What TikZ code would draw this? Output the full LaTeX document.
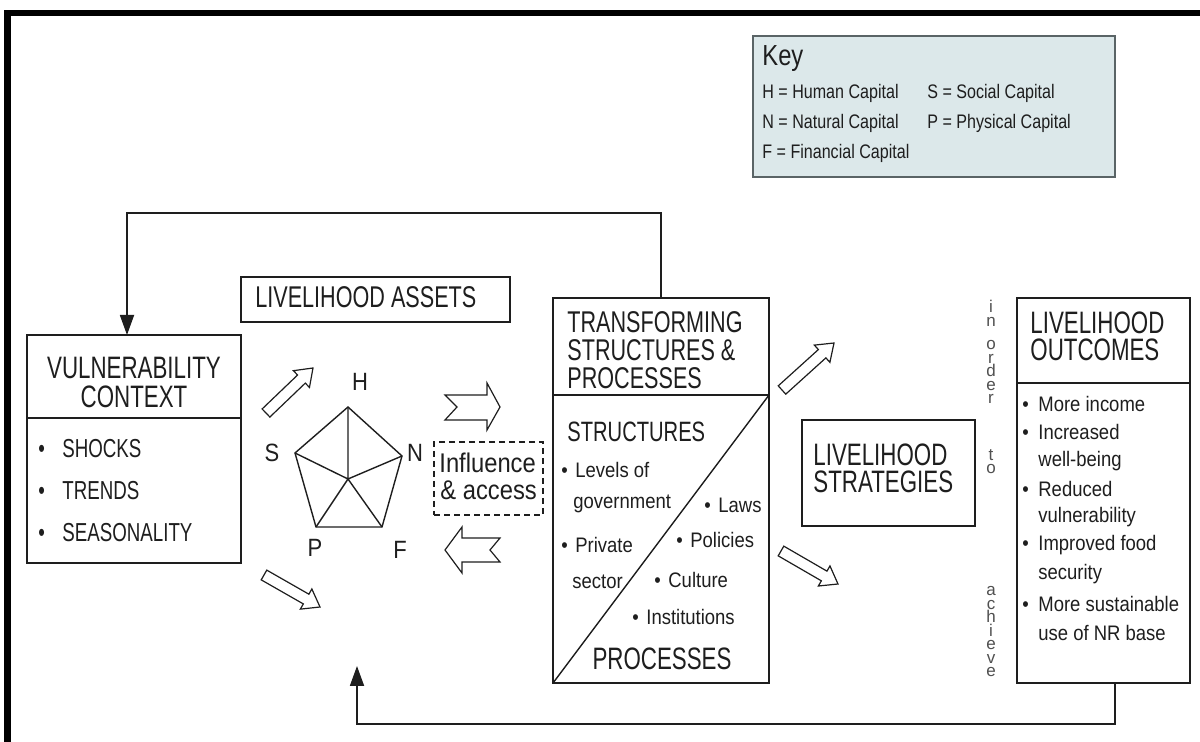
\documentclass[tikz,border=0pt]{standalone}
\usepackage{fontspec}
\setmainfont{Liberation Sans}
\newfontfamily\condT{Liberation Sans}[FakeStretch=0.72]
\newfontfamily\condB{Liberation Sans}[FakeStretch=0.88]
\newfontfamily\condK{Liberation Sans}[FakeStretch=0.82]
\usetikzlibrary{arrows.meta,calc}
\definecolor{ink}{HTML}{1E1E1E}
\definecolor{keyfill}{HTML}{DCE8EA}
\definecolor{keyline}{HTML}{5A6466}
\definecolor{vgray}{HTML}{505050}
\newcommand\tightls{\lineskiplimit-10pt\relax}
\newcommand\vfontA{\fontsize{8.5}{6.75}\selectfont\tightls}
\tikzset{
  box/.style={draw=ink, line width=1pt, inner sep=0pt, outer sep=0pt, rectangle},
  divline/.style={draw=ink, line width=0.9pt},
  diagline/.style={draw=ink, line width=0.7pt},
  fbline/.style={draw=ink, line width=0.9pt},
  fbarrow/.style={fbline, -{Triangle[width=7pt,length=10pt]}},
  hollow/.style={draw=ink, line width=0.6pt, fill=white, line join=miter},
  pent/.style={draw=ink, line width=0.7pt, line join=miter},
  ttlbig/.style={inner sep=0pt, text=ink, font=\condT\fontsize{15.5}{15.5}\selectfont},
  ttlblock/.style={inner sep=0pt, text=ink, anchor=north west, align=left, font=\condT\fontsize{15.5}{13.5}\selectfont},
  ttlmid/.style={inner sep=0pt, text=ink, font=\condT\fontsize{15}{15}\selectfont},
  ttlsm/.style={inner sep=0pt, text=ink, font=\condT\fontsize{14}{14}\selectfont},
  vbul/.style={inner sep=0pt, text=ink, anchor=base west, font=\condT\fontsize{13}{13}\selectfont},
  body/.style={inner sep=0pt, text=ink, anchor=base west, font=\condB\fontsize{10.5}{10.5}\selectfont},
  infl/.style={inner sep=0pt, text=ink, anchor=base west, font=\condB\fontsize{13.5}{13.5}\selectfont},
  plab/.style={inner sep=0pt, text=ink, font=\condB\fontsize{12.5}{12.5}\selectfont},
  keytitle/.style={inner sep=0pt, text=ink, anchor=base west, font=\condK\fontsize{14.5}{14.5}\selectfont},
  keytxt/.style={inner sep=0pt, text=ink, anchor=base west, font=\condK\fontsize{9.8}{9.8}\selectfont},
  vword/.style={inner sep=0pt, text=vgray, anchor=north, align=center, font=\vfontA},
}
\newcommand\blockarrow[2]{%
  \coordinate (baB) at ($(#2)!8pt!(#1)$);
  \draw[hollow] ($(#1)!2.8pt!90:(#2)$) -- ($(baB)!2.8pt!90:(#2)$) -- ($(baB)!5.8pt!90:(#2)$)
    -- (#2) -- ($(baB)!5.8pt!-90:(#2)$) -- ($(baB)!2.8pt!-90:(#2)$) -- ($(#1)!2.8pt!-90:(#2)$) -- cycle;
}
\begin{document}
\begin{tikzpicture}[x=0.5pt,y=-0.5pt]
\useasboundingbox (0,0) rectangle (1200,742);
\fill[white] (0,0) rectangle (1200,742);
% frame
\fill[black] (4,10) rectangle (1200,16);
\fill[black] (4,10) rectangle (11,742);

% key
\node[box, draw=keyline, line width=1.2pt, fill=keyfill, minimum width=181pt, minimum height=70.5pt] (key) at (934,106.5) {};
\node[keytitle] (ktitle) at (762,66) {Key};
\node[keytxt] (kH) at (762,99) {H = Human Capital};
\node[keytxt] (kN) at (762,129) {N = Natural Capital};
\node[keytxt] (kF) at (762,159) {F = Financial Capital};
\node[keytxt] (kS) at (927,99) {S = Social Capital};
\node[keytxt] (kP) at (927,129) {P = Physical Capital};

% vulnerability context
\node[box, minimum width=107pt, minimum height=114pt] (vuln) at (134,449) {};
\draw[divline] (vuln.west |- 0,418) -- (vuln.east |- 0,418);
\node[ttlblock, anchor=north, align=center, font=\condT\fontsize{15.5}{14.5}\selectfont] (vt) at (134,357) {VULNERABILITY\\CONTEXT};
\node[vbul] (vb1) at (38,458) {\makebox[12pt][l]{•}SHOCKS};
\node[vbul] (vb2) at (38,500) {\makebox[12pt][l]{•}TRENDS};
\node[vbul] (vb3) at (38,542) {\makebox[12pt][l]{•}SEASONALITY};

% livelihood assets
\node[box, minimum width=134.5pt, minimum height=22.5pt] (assets) at (375.5,299.5) {};
\node[ttlmid, anchor=base west] (assetst) at (255,308) {LIVELIHOOD ASSETS};

% pentagon
\coordinate (pH) at (348,407);
\coordinate (pN) at (402,456);
\coordinate (pF) at (382,527);
\coordinate (pP) at (316,527);
\coordinate (pS) at (295,453);
\coordinate (pC) at (348,479);
\draw[pent] (pH) -- (pN) -- (pF) -- (pP) -- (pS) -- cycle;
\draw[pent] (pC) -- (pH) (pC) -- (pN) (pC) -- (pF) (pC) -- (pP) (pC) -- (pS);
\node[plab] (lH) at (360,382) {H};
\node[plab] (lS) at (272,453) {S};
\node[plab] (lN) at (415,453) {N};
\node[plab] (lP) at (315,548) {P};
\node[plab] (lF) at (400,550) {F};

% influence & access
\node[box, dashed, dash pattern=on 3pt off 2pt, line width=0.8pt, minimum width=54.5pt, minimum height=36.5pt] (infl) at (488.5,478.5) {};
\node[infl] (inf1) at (439,473) {Influence};
\node[infl] (inf2) at (440,500) {\& access};

% hollow horizontal arrows
\draw[hollow] (445,395) -- (487,395) -- (487,383) -- (500,407) -- (487,430) -- (487,420) -- (445,420) -- (457,407) -- cycle;
\draw[hollow] (445,550) -- (462,527) -- (462,538) -- (500,538) -- (490,550) -- (500,562) -- (462,562) -- (462,573) -- cycle;

% diagonal block arrows
\coordinate (a1t) at (266,413); \coordinate (a1h) at (313,368);
\coordinate (a2t) at (264,575); \coordinate (a2h) at (320,607);
\coordinate (a3t) at (782,390); \coordinate (a3h) at (834,343);
\coordinate (a4t) at (781,551); \coordinate (a4h) at (838,584);
\blockarrow{a1t}{a1h}
\blockarrow{a2t}{a2h}
\blockarrow{a3t}{a3h}
\blockarrow{a4t}{a4h}

% transforming structures
\node[box, minimum width=108pt, minimum height=192.5pt] (trans) at (661,490.5) {};
\draw[divline] (trans.west |- 0,395) -- (trans.east |- 0,395);
\draw[diagline] (trans.east |- 0,395) -- (trans.south west);
\node[ttlblock, font=\condT\fontsize{15}{14}\selectfont] (tt) at (567,311.5) {TRANSFORMING\\STRUCTURES \&\\PROCESSES};
\node[ttlsm, anchor=base west] (tstr) at (567,442) {STRUCTURES};
\node[body] (ts1) at (561,478) {\makebox[7pt][l]{•}Levels of};
\node[body] (ts2) at (573,509) {government};
\node[body] (ts3) at (561,553) {\makebox[7pt][l]{•}Private};
\node[body] (ts4) at (572,589) {sector};
\node[body] (tp1) at (704,513) {\makebox[7pt][l]{•}Laws};
\node[body] (tp2) at (676,548) {\makebox[7pt][l]{•}Policies};
\node[body] (tp3) at (654,588) {\makebox[7pt][l]{•}Culture};
\node[body] (tp4) at (632,625) {\makebox[7pt][l]{•}Institutions};
\node[ttlbig, anchor=base] (tproc) at (662,670) {PROCESSES};

% strategies
\node[box, minimum width=86.5pt, minimum height=53pt] (strat) at (888.5,473) {};
\node[ttlblock] (st) at (813,443) {LIVELIHOOD\\STRATEGIES};

% in order to achieve
\node[vword] (w1) at (991,300) {i\\n};
\node[vword] (w2) at (991,340) {o\\r\\d\\e\\r};
\node[vword] (w3) at (991,449) {t\\o};
\node[vword] (w4) at (991,586) {a\\c\\h\\i\\e\\v\\e};

% outcomes
\node[box, minimum width=86.5pt, minimum height=192.5pt] (out) at (1103.5,490.5) {};
\draw[divline] (out.west |- 0,383) -- (out.east |- 0,383);
\node[ttlblock] (ot) at (1030,311) {LIVELIHOOD\\OUTCOMES};
\node[body] (ob1) at (1022,412) {\makebox[8pt][l]{•}More income};
\node[body] (ob2) at (1022,440) {\makebox[8pt][l]{•}Increased};
\node[body] (ob3) at (1038,467) {well-being};
\node[body] (ob4) at (1022,497) {\makebox[8pt][l]{•}Reduced};
\node[body] (ob5) at (1038,523) {vulnerability};
\node[body] (ob6) at (1022,551) {\makebox[8pt][l]{•}Improved food};
\node[body] (ob7) at (1038,580) {security};
\node[body] (ob8) at (1022,612) {\makebox[8pt][l]{•}More sustainable};
\node[body] (ob9) at (1038,641) {use of NR base};

% feedback connectors
\coordinate (tl) at (127,213);
\draw[fbarrow] (trans.north) |- (tl) -- (vuln.north -| tl);
\coordinate (br) at (1115,724);
\coordinate (bl) at (357,724);
\coordinate (btip) at (357,666);
\draw[fbarrow] (out.south -| br) -- (br) -- (bl) -- (btip);
\end{tikzpicture}
\end{document}
